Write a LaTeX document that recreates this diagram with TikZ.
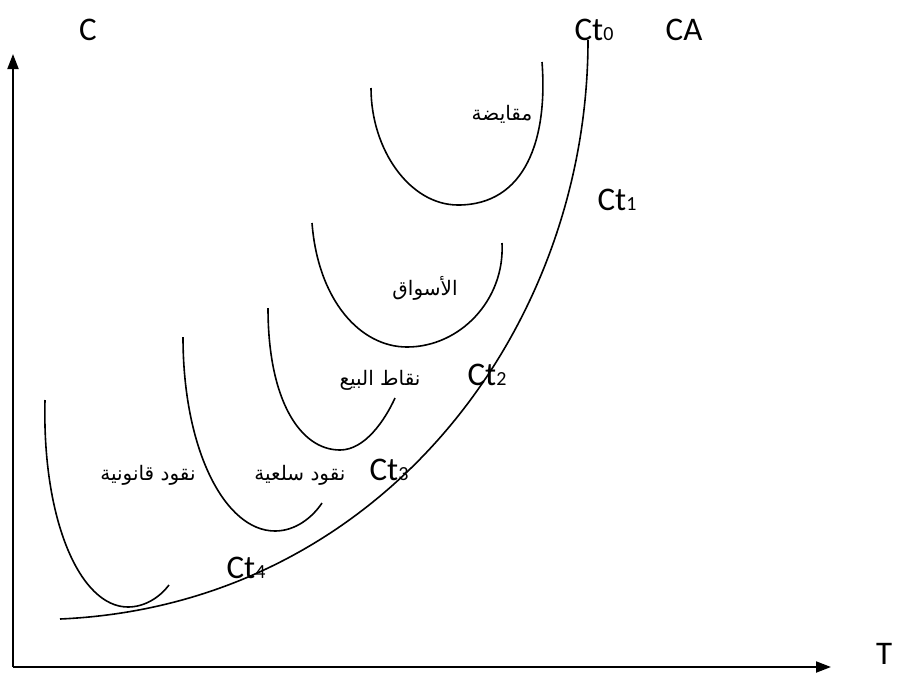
\documentclass[tikz,border=0pt]{standalone}
\usepackage{fontspec}
\setmainfont{Carlito}
\newfontfamily\arabicfont[Script=Arabic]{DejaVu Sans}
\TeXXeTstate=1
\usetikzlibrary{arrows.meta}
\tikzset{
  lat/.style={font=\fontsize{33}{36}\selectfont, inner sep=0pt},
  arab/.style={font=\arabicfont\fontsize{20}{24}\selectfont, inner sep=0pt},
  curve/.style={line width=1.6pt},
  axis/.style={line width=2pt, -{Triangle[length=15pt,width=11pt]}}
}
\newcommand{\dg}[1]{{\fontsize{20}{22}\selectfont #1}}
\begin{document}
\begin{tikzpicture}[x=1pt,y=-1pt]
\useasboundingbox (0,0) rectangle (905,673);
% axes
\coordinate (o) at (13,667);
\coordinate (ytip) at (13,54);
\coordinate (xtip) at (831,667);
\draw[axis] (o) -- (ytip);
\draw[axis] (o) -- (xtip);
% labels
\node[lat] (lC) at (88,30) {C};
\node[lat] (lCt0) at (594,30) {Ct\dg{0}};
\node[lat] (lCA) at (684,30) {CA};
\node[lat] (lCt1) at (617,200) {Ct\dg{1}};
\node[lat] (lCt2) at (487,375) {Ct\dg{2}};
\node[lat] (lCt3) at (389,470) {Ct\dg{3}};
\node[lat] (lCt4) at (246,568) {Ct\dg{4}};
\node[lat, anchor=west] (lT) at (876,654) {T};
% CA envelope
\coordinate (ca0) at (60,619);
\coordinate (ca1) at (588,40);
\draw[curve] (ca0) .. controls (380,605) and (588,330) .. (ca1);
% U curves
\draw[curve] (371,88) .. controls (371,150) and (410,205) .. (458,205) .. controls (525,205) and (548,140) .. (542,62);
\draw[curve] (312,223) .. controls (318,300) and (360,347) .. (407,347) .. controls (460,347) and (505,300) .. (502,243);
\draw[curve] (268,308) .. controls (268,400) and (300,450) .. (340,450) .. controls (365,450) and (385,420) .. (395,398);
\draw[curve] (183,337) .. controls (183,450) and (225,531) .. (275,531) .. controls (295,531) and (312,518) .. (322,503);
\draw[curve] (45,400) .. controls (42,520) and (80,607) .. (128,607) .. controls (145,607) and (160,597) .. (169,585);
% Arabic labels
\node[arab] (a1) at (502,114) {\beginR مقايضة\endR};
\node[arab] (a2) at (425,288) {\beginR الأسواق\endR};
\node[arab] (a3) at (380,380) {\beginR نقاط البيع\endR};
\node[arab] (a4) at (300,475) {\beginR نقود سلعية\endR};
\node[arab] (a5) at (148,475) {\beginR نقود قانونية\endR};
\end{tikzpicture}
\end{document}
